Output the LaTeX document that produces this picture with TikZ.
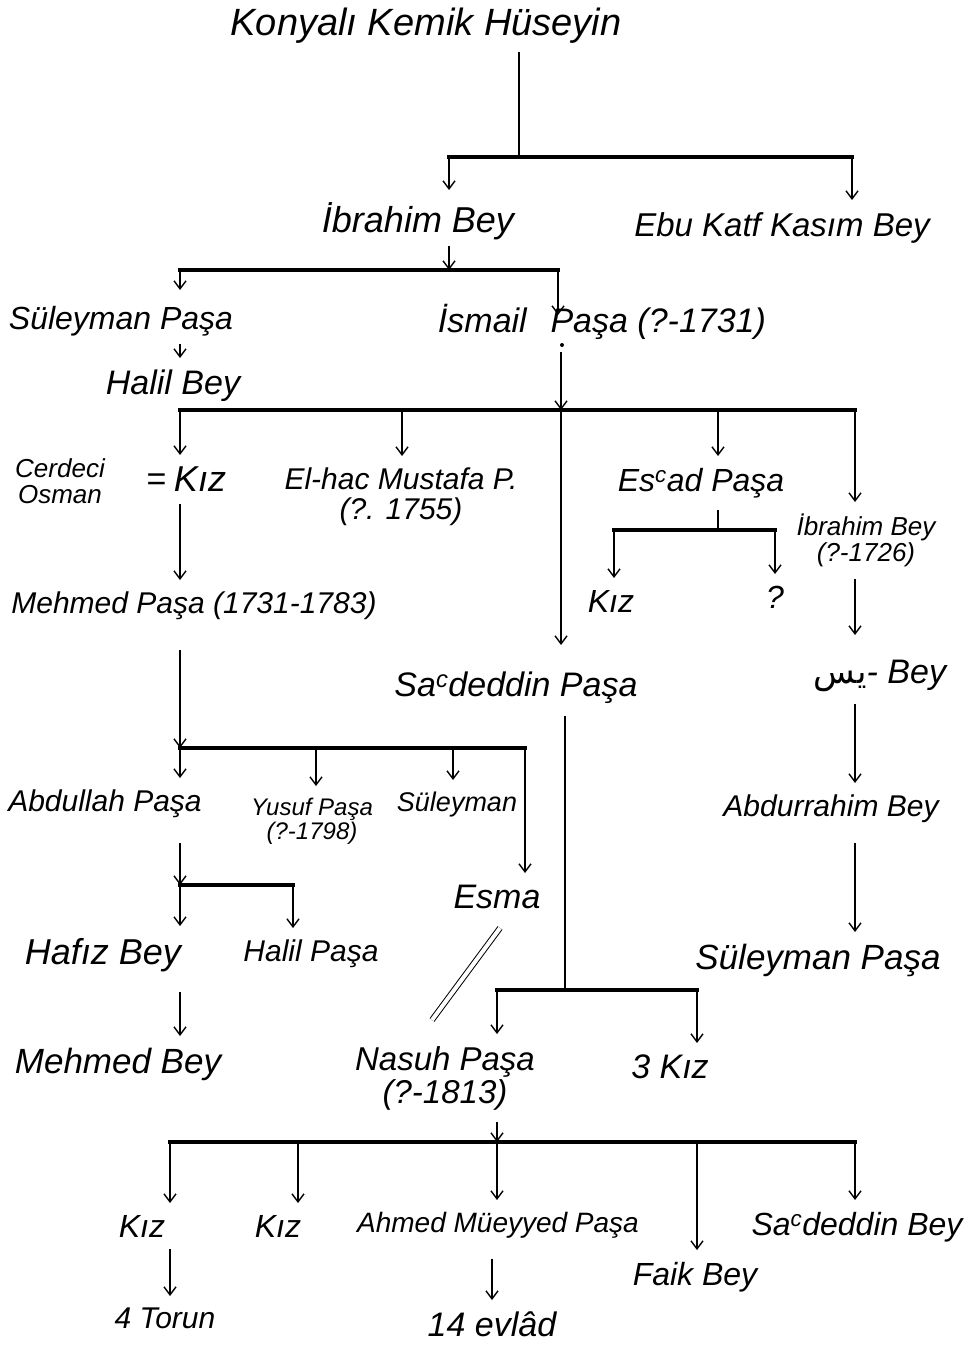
\documentclass[tikz,border=0pt]{standalone}
\usepackage{fontspec}
\setmainfont{Liberation Sans}
\newfontfamily\arabicfont[Script=Arabic]{DejaVu Sans}
\TeXXeTstate=1
\usetikzlibrary{arrows.meta}
\newcommand{\lblfont}[1]{\fontsize{#1}{#1}\selectfont\itshape}
\begin{document}
\begin{tikzpicture}[x=1pt,y=-1pt,
  lbl/.style={anchor=north, inner xsep=4pt, inner ysep=12pt, align=center, font=\lblfont{30}},
  stem/.style={line width=1.4pt},
  conn/.style={line width=1.4pt, -{Straight Barb[length=8pt,width=12pt]}},
  bar/.style={line width=3.4pt, line cap=rect},
  wed/.style={double, double distance=4pt, line width=1pt}]
\useasboundingbox (0,0) rectangle (970,1348);
% nodes
\node[lbl, font=\lblfont{38}] (title) at (426,-4) {Konyalı Kemik Hüseyin};
\node[lbl, font=\lblfont{36}] (ibr) at (418,190) {İbrahim Bey};
\node[lbl, font=\lblfont{33}] (ebu) at (782,200) {Ebu Katf Kasım Bey};
\node[lbl, font=\lblfont{32}] (sul1) at (121,294) {Süleyman Paşa};
\node[lbl, font=\lblfont{34}] (ism) at (602,292) {İsmail\hspace{0.7em}Paşa (?-1731)};
\node[lbl, font=\lblfont{34}] (halil) at (173,358) {Halil Bey};
\node[lbl, font=\lblfont{26}] (osman) at (60,446) {Cerdeci\\Osman};
\node[lbl, font=\lblfont{34}] (eq) at (156,462) {=};
\node[lbl, font=\lblfont{36}] (kiz1) at (200,455) {Kız};
\node[lbl, font=\lblfont{30}] (mus) at (401,456) {El-hac Mustafa P.\\(?. 1755)};
\node[lbl, font=\lblfont{32}] (esad) at (701,456) {Es\textsuperscript{c}ad Paşa};
\node[lbl, font=\lblfont{26}] (ibr2) at (866,502) {İbrahim Bey\\(?-1726)};
\node[lbl, font=\lblfont{30}] (mehmed) at (194,580) {Mehmed Paşa (1731-1783)};
\node[lbl, font=\lblfont{32}] (kiz2) at (611,578) {Kız};
\node[lbl, font=\lblfont{32}] (q) at (775,574) {?};
\node[lbl, font=\lblfont{34}] (sad) at (516,660) {Sa\textsuperscript{c}deddin Paşa};
\node[lbl, font=\lblfont{34}] (yas) at (880,648) {{\upshape\arabicfont\beginR يس\endR}- Bey};
\node[lbl, font=\lblfont{30}] (abd) at (105,778) {Abdullah Paşa};
\node[lbl, font=\lblfont{24}] (yusuf) at (312,786) {Yusuf Paşa\\(?-1798)};
\node[lbl, font=\lblfont{27}] (sul2) at (457,780) {Süleyman};
\node[lbl, font=\lblfont{30}] (abdr) at (831,783) {Abdurrahim Bey};
\node[lbl, font=\lblfont{34}] (esma) at (497,873) {Esma};
\node[lbl, font=\lblfont{36}] (hafiz) at (103,926) {Hafız Bey};
\node[lbl, font=\lblfont{30}] (halil2) at (311,928) {Halil Paşa};
\node[lbl, font=\lblfont{35}] (sul3) at (818,932) {Süleyman Paşa};
\node[lbl, font=\lblfont{35}] (mbey) at (118,1036) {Mehmed Bey};
\node[lbl, font=\lblfont{33}] (nasuh) at (445,1034) {Nasuh Paşa\\(?-1813)};
\node[lbl, font=\lblfont{34}] (kiz3) at (670,1043) {3 Kız};
\node[lbl, font=\lblfont{32}] (kiz4) at (142,1203) {Kız};
\node[lbl, font=\lblfont{32}] (kiz5) at (278,1203) {Kız};
\node[lbl, font=\lblfont{28}] (ahmed) at (498,1200) {Ahmed Müeyyed Paşa};
\node[lbl, font=\lblfont{32}] (sbey) at (857,1200) {Sa\textsuperscript{c}deddin Bey};
\node[lbl, font=\lblfont{32}] (faik) at (695,1250) {Faik Bey};
\node[lbl, font=\lblfont{30}] (torun) at (165,1296) {4 Torun};
\node[lbl, font=\lblfont{34}] (evlad) at (492,1300) {14 evlâd};
% junction coordinates
\coordinate (b1) at (519,157); \coordinate (b1l) at (449,157); \coordinate (b1r) at (852,157);
\coordinate (b2) at (449,270); \coordinate (b2l) at (180,270); \coordinate (b2r) at (558,270);
\coordinate (b3) at (561,410); \coordinate (b3a) at (180,410); \coordinate (b3b) at (402,410);
\coordinate (b3d) at (718,410); \coordinate (b3e) at (855,410);
\coordinate (b4) at (718,530); \coordinate (b4l) at (614,530); \coordinate (b4r) at (775,530);
\coordinate (b5) at (180,748); \coordinate (b5b) at (316,748); \coordinate (b5c) at (453,748); \coordinate (b5d) at (525,748);
\coordinate (b6) at (180,885); \coordinate (b6r) at (293,885);
\coordinate (b7) at (565,990); \coordinate (b7l) at (497,990); \coordinate (b7r) at (697,990);
\coordinate (b8) at (497,1142); \coordinate (b8l) at (170,1142); \coordinate (b8b) at (298,1142);
\coordinate (b8d) at (697,1142); \coordinate (b8e) at (855,1142);
\coordinate (m1) at (500,928); \coordinate (m2) at (432,1020);
\coordinate (dot) at (562,345);
% level 1
\draw[stem, shorten <=-4pt] (title.south -| b1) -- (b1);
\draw[bar] (b1l) -- (b1r);
\draw[conn] (b1l) -- (b1l |- ibr.north);
\draw[conn] (b1r) -- (b1r |- ebu.north);
% level 2
\draw[conn, shorten <=-6pt] (ibr.south -| b2) -- (b2);
\draw[bar] (b2l) -- (b2r);
\draw[conn, shorten >=4pt] (b2l) -- (b2l |- sul1.north);
\draw[conn, shorten >=-23pt] (b2r) -- (b2r |- ism.north);
\draw[conn, shorten <=-4pt] (sul1.south -| b2l) -- (b2l |- halil.north);
% level 3
\fill (dot) circle (2pt);
\draw[conn] (ism.south -| b3) -- (b3);
\draw[bar] (b3a) -- (b3e);
\draw[conn] (b3a) -- (b3a |- kiz1.north);
\draw[conn] (b3b) -- (b3b |- mus.north);
\draw[conn, shorten >=15pt] (b3) -- (b3 |- sad.north);
\draw[conn] (b3d) -- (b3d |- esad.north);
\draw[conn] (b3e) -- (b3e |- ibr2.north);
% Es'ad
\draw[stem] (esad.south -| b4) -- (b4);
\draw[bar] (b4l) -- (b4r);
\draw[conn] (b4l) -- (b4l |- kiz2.north);
\draw[conn] (b4r) -- (b4r |- q.north);
% right column
\draw[conn, shorten >=13pt] (ibr2.south -| b3e) -- (b3e |- yas.north);
\draw[conn] (yas.south -| b3e) -- (b3e |- abdr.north);
\draw[conn, shorten <=8pt] (abdr.south -| b3e) -- (b3e |- sul3.north);
% left column
\draw[conn] (kiz1.south -| b3a) -- (b3a |- mehmed.north);
\draw[conn, shorten <=18pt] (mehmed.south -| b5) -- (b5);
\draw[bar] (b5) -- (b5d);
\draw[conn] (b5) -- (b5 |- abd.north);
\draw[conn] (b5b) -- (b5b |- yusuf.north);
\draw[conn] (b5c) -- (b5c |- sul2.north);
\draw[conn] (b5d) -- (b5d |- esma.north);
\draw[conn, shorten <=13pt] (abd.south -| b6) -- (b6);
\draw[bar] (b6) -- (b6r);
\draw[conn] (b6) -- (b6 |- hafiz.north);
\draw[conn] (b6r) -- (b6r |- halil2.north);
\draw[conn, shorten <=8pt] (hafiz.south -| b6) -- (b6 |- mbey.north);
% Sa'deddin
\draw[stem] (sad.south -| b7) -- (b7);
\draw[bar] (b7l) -- (b7r);
\draw[conn] (b7l) -- (b7l |- nasuh.north);
\draw[conn] (b7r) -- (b7r |- kiz3.north);
\draw[wed] (m1) -- (m2);
% Nasuh
\draw[conn] (nasuh.south -| b8) -- (b8);
\draw[bar] (b8l) -- (b8e);
\draw[conn] (b8l) -- (b8l |- kiz4.north);
\draw[conn] (b8b) -- (b8b |- kiz5.north);
\draw[conn] (b8) -- (b8 |- ahmed.north);
\draw[conn] (b8d) -- (b8d |- faik.north);
\draw[conn] (b8e) -- (b8e |- sbey.north);
\draw[conn] (kiz4.south -| b8l) -- (b8l |- torun.north);
\draw[conn, shorten <=8pt] (ahmed.south -| evlad.north) -- (evlad.north);
\end{tikzpicture}
\end{document}
